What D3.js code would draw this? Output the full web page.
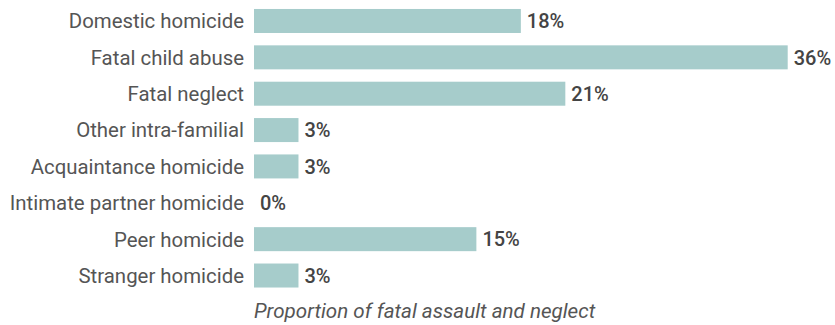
<!DOCTYPE html>
<html>
<head>
<meta charset="utf-8">
<script src="https://cdn.jsdelivr.net/npm/d3@7"></script>
<style>
  html, body { margin: 0; padding: 0; background: #fff; }
  svg { display: block; }
  text { font-family: Roboto, "Noto Sans", sans-serif; fill: #555; }
</style>
</head>
<body>
<svg id="chart" width="835" height="325"></svg>
<script>
// Categories of fatal assault and neglect, with their share in percent
const categories = [
  "Domestic homicide",
  "Fatal child abuse",
  "Fatal neglect",
  "Other intra-familial",
  "Acquaintance homicide",
  "Intimate partner homicide",
  "Peer homicide",
  "Stranger homicide"
];
const values = [18, 36, 21, 3, 3, 0, 15, 3];
const axisTitle = "Proportion of fatal assault and neglect";

const svg = d3.select("#chart");
const data = categories.map((c, i) => ({ category: c, value: values[i] }));

const x = d3.scaleLinear()
  .domain([0, d3.max(values)])
  .range([254, 787.7]);

const y = d3.scaleBand()
  .domain(categories)
  .range([2.8, 293.7])
  .paddingInner(0.34)
  .paddingOuter(0.17);

// Bars
svg.append("g")
  .selectAll("rect")
  .data(data)
  .join("rect")
  .attr("x", x(0))
  .attr("y", d => y(d.category))
  .attr("width", d => x(d.value) - x(0))
  .attr("height", y.bandwidth())
  .attr("fill", "#a6cccb");

// Category labels
svg.append("g")
  .selectAll("text")
  .data(data)
  .join("text")
  .attr("x", x(0) - 10)
  .attr("y", d => y(d.category) + y.bandwidth() / 2)
  .attr("dy", "0.36em")
  .attr("text-anchor", "end")
  .attr("font-size", 20.4)
  .text(d => d.category);

// Value labels
svg.append("g")
  .selectAll("text")
  .data(data)
  .join("text")
  .attr("x", d => x(d.value) + 6)
  .attr("y", d => y(d.category) + y.bandwidth() / 2)
  .attr("dy", "0.36em")
  .attr("font-size", 20)
  .attr("font-weight", 500)
  .style("fill", "#444")
  .text(d => d.value + "%");

// Axis title
svg.append("text")
  .attr("x", x(0))
  .attr("y", 317.5)
  .attr("font-size", 20.6)
  .attr("font-style", "italic")
  .text(axisTitle);
</script>
</body>
</html>
